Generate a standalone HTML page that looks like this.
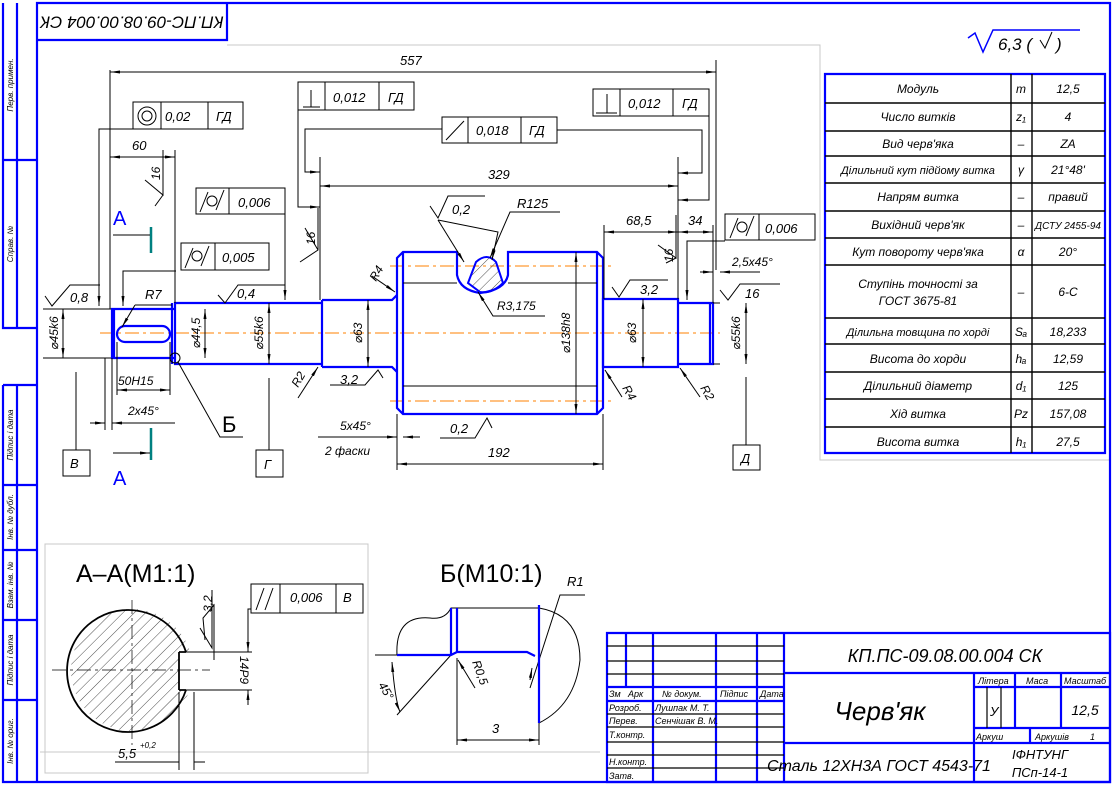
<!DOCTYPE html>
<html><head><meta charset="utf-8"><style>
html,body{margin:0;padding:0;background:#fff}
svg{display:block}
text{font-family:"Liberation Sans","DejaVu Sans",sans-serif;font-style:italic;fill:#000}
.b{stroke:#0000ff;stroke-width:2.2;fill:none}
.t{stroke:#000;stroke-width:1;fill:none}
.g{stroke:#c8c8c8;stroke-width:1;fill:none}
.o{stroke:#ff8000;stroke-width:1;stroke-dasharray:14 4 3 4;fill:none}
.c{stroke:#000;stroke-width:.7;stroke-dasharray:14 4 3 4;fill:none}
</style></head><body>
<svg width="1113" height="785" viewBox="0 0 1113 785" xmlns="http://www.w3.org/2000/svg">
<defs>
<marker id="a" viewBox="0 0 10 6" refX="10" refY="3" markerWidth="10" markerHeight="6" orient="auto-start-reverse" markerUnits="userSpaceOnUse"><path d="M0,1.5L10,3L0,4.5z" fill="#000"/></marker>
<pattern id="h" width="8" height="8" patternUnits="userSpaceOnUse" patternTransform="rotate(45)"><line x1="0" y1="0" x2="0" y2="8" stroke="#000" stroke-width=".7"/></pattern>
</defs>
<path class="g" d="M227,45H820V460H1110M45,544H368V773H45Z M40,752H600"/>
<path class="b" d="M37,3H1110V782H37Z M3,3V328H37 M17,3V328 M3,160H37 M3,385V782H37 M17,385V782 M3,385H37 M3,485H37 M3,550H37 M3,620H37 M3,700H37 M37,40H227V3"/>
<text transform="translate(13,85) rotate(-90)" font-size="8" text-anchor="middle">Перв. примен.</text>
<text transform="translate(13,244) rotate(-90)" font-size="8" text-anchor="middle">Справ. №</text>
<text transform="translate(13,435) rotate(-90)" font-size="8" text-anchor="middle">Підпис і дата</text>
<text transform="translate(13,517) rotate(-90)" font-size="8" text-anchor="middle">Інв. № дубл.</text>
<text transform="translate(13,585) rotate(-90)" font-size="8" text-anchor="middle">Взам. інв. №</text>
<text transform="translate(13,660) rotate(-90)" font-size="8" text-anchor="middle">Підпис і дата</text>
<text transform="translate(13,741) rotate(-90)" font-size="8" text-anchor="middle">Інв. № ориг.</text>
<text transform="translate(132,21) rotate(180)" font-size="17" text-anchor="middle" dominant-baseline="middle">КП.ПС-09.08.00.004 СК</text>
<path d="M968,38L975,33L983,52L993,30H1080" stroke="#0000ff" stroke-width="1.5" fill="none"/>
<text x="998" y="50" font-size="17">6,3 (</text>
<path d="M1040,40L1045,48L1052,32" stroke="#000" fill="none"/>
<text x="1056" y="50" font-size="17">)</text>
<path class="b" d="M825,74H1105V453H825Z"/>
<path d="M1011,74V453M1032,74V453M825,103H1105M825,131H1105M825,156H1105M825,183H1105M825,211H1105M825,238H1105M825,265H1105M825,318H1105M825,344H1105M825,372H1105M825,399H1105M825,427H1105" stroke="#000" stroke-width="1.4"/>
<g font-size="12" text-anchor="middle">
<text x="918" y="93">Модуль</text><text x="1021" y="93">m</text><text x="1068" y="93">12,5</text>
<text x="918" y="121">Число витків</text><text x="1021" y="121">z₁</text><text x="1068" y="121">4</text>
<text x="918" y="148">Вид черв'яка</text><text x="1021" y="148">–</text><text x="1068" y="148">ZA</text>
<text x="918" y="174" font-size="11">Ділильний кут підйому витка</text><text x="1021" y="174">γ</text><text x="1068" y="174">21°48'</text>
<text x="918" y="201">Напрям витка</text><text x="1021" y="201">–</text><text x="1068" y="201">правий</text>
<text x="918" y="229">Вихідний черв'як</text><text x="1021" y="229">–</text><text x="1068" y="229" font-size="10">ДСТУ 2455-94</text>
<text x="918" y="256">Кут повороту черв'яка</text><text x="1021" y="256">α</text><text x="1068" y="256">20°</text>
<text x="918" y="288">Ступінь точності за</text><text x="918" y="305">ГОСТ 3675-81</text><text x="1021" y="296">–</text><text x="1068" y="296">6-С</text>
<text x="918" y="336" font-size="11">Ділильна товщина по хорді</text><text x="1021" y="336">Sₐ</text><text x="1068" y="336">18,233</text>
<text x="918" y="363">Висота до хорди</text><text x="1021" y="363">hₐ</text><text x="1068" y="363">12,59</text>
<text x="918" y="390">Ділильний діаметр</text><text x="1021" y="390">d₁</text><text x="1068" y="390">125</text>
<text x="918" y="418">Хід витка</text><text x="1021" y="418">Pz</text><text x="1068" y="418">157,08</text>
<text x="918" y="446">Висота витка</text><text x="1021" y="446">h₁</text><text x="1068" y="446">27,5</text>
</g>
<path class="b" d="M607,633H1110V782H607Z M626,633V687 M653,633V782 M716,633V782 M757,633V782 M784,633V782 M607,687H784 M607,701H784 M784,673H1110 M784,743H1110 M974,673V782 M974,687H1110 M974,728H1110 M1015,673V728 M1061,673V728 M1030,728V743"/>
<path d="M607,646H784M607,661H784M607,674H784M607,714H784M607,727H784M607,742H784M607,755H784M607,768H784M987,687V728M1001,687V728" stroke="#000" stroke-width="1.2"/>
<g font-size="9">
<text x="609" y="697">Зм</text><text x="628" y="697">Арк</text><text x="662" y="697">№ докум.</text><text x="720" y="697">Підпис</text><text x="760" y="697">Дата</text>
<text x="609" y="711">Розроб.</text><text x="655" y="711">Лушпак М. Т.</text>
<text x="609" y="724">Перев.</text><text x="655" y="724">Сенчішак В. М.</text>
<text x="609" y="738">Т.контр.</text>
<text x="609" y="765">Н.контр.</text><text x="609" y="779">Затв.</text>
<text x="978" y="684">Літера</text><text x="1026" y="684">Маса</text><text x="1064" y="684">Масштаб</text>
<text x="976" y="740">Аркуш</text><text x="1035" y="740">Аркушів</text><text x="1090" y="740">1</text>
</g>
<text x="945" y="662" font-size="18" text-anchor="middle">КП.ПС-09.08.00.004  СК</text>
<text x="880" y="720" font-size="26" text-anchor="middle">Черв'як</text>
<text x="990" y="716" font-size="13">У</text>
<text x="1085" y="715" font-size="14" text-anchor="middle">12,5</text>
<text x="879" y="771" font-size="16" text-anchor="middle">Сталь 12ХН3А ГОСТ 4543-71</text>
<text x="1040" y="759" font-size="13" text-anchor="middle">ІФНТУНГ</text>
<text x="1040" y="777" font-size="13" text-anchor="middle">ПСп-14-1</text>

<path class="o" d="M100,333H720 M390,266H612 M390,401H612"/>
<path class="t" d="M43,309H112 M43,358H112"/>
<path class="b" d="M112,309H175V358H112Z M114,309V358 M175,303H322V364H175Z M172,303V364 M322,300H392L397,295 M322,367H392L397,372 M322,300V367"/>
<rect x="117" y="326" width="53" height="16" rx="8" class="b"/>
<path class="b" d="M397,258L403,252H457V275Q460,290 480,293Q505,290 508,275V252H597L603,258V408L597,414H403L397,408Z M403,252V414 M597,252V414"/>
<path d="M468,283L476,262Q487,252 496,262L503,283Q492,294 480,292Z" fill="url(#h)" stroke="#0000ff" stroke-width="2"/>
<path class="t" d="M403,283H457 M508,283H597 M403,386H597"/>
<path class="b" d="M603,299H678V367H603Z M678,303H713V364H678Z M710,303V364"/>
<path class="t" d="M713,303H720 M713,364H720"/>

<g class="t">
<path d="M110,72H716" marker-start="url(#a)" marker-end="url(#a)"/>
<path d="M110,70V309 M716,60V270"/>
<path d="M110,157H175" marker-start="url(#a)" marker-end="url(#a)"/>
<path d="M175,150V303"/>
<path d="M320,186H678" marker-start="url(#a)" marker-end="url(#a)"/>
<path d="M320,157V300 M678,157V299"/>
<path d="M604,232H678" marker-start="url(#a)" marker-end="url(#a)"/>
<path d="M604,225V299"/>
<path d="M678,232H713" marker-start="url(#a)" marker-end="url(#a)"/>
<path d="M713,225V303"/>
<path d="M397,464H603" marker-start="url(#a)" marker-end="url(#a)"/>
<path d="M397,414V470 M603,414V470"/>
<path d="M117,390H170" marker-start="url(#a)" marker-end="url(#a)"/>
<path d="M117,342V395 M170,342V395"/>
<path d="M90,423H105" marker-end="url(#a)"/><path d="M175,423H112" marker-end="url(#a)"/>
<path d="M105,430V358 M112,430V358"/>
<path d="M318,437H397" marker-end="url(#a)"/><path d="M420,437H403" marker-end="url(#a)"/>
<path d="M700,272H713" marker-end="url(#a)"/><path d="M760,272H720" marker-end="url(#a)"/>
<path d="M63,309V358" marker-start="url(#a)" marker-end="url(#a)"/>
<path d="M205,309V358" marker-start="url(#a)" marker-end="url(#a)"/>
<path d="M269,303V364" marker-start="url(#a)" marker-end="url(#a)"/>
<path d="M368,300V367" marker-start="url(#a)" marker-end="url(#a)"/>
<path d="M576,252V414" marker-start="url(#a)" marker-end="url(#a)"/>
<path d="M643,299V367" marker-start="url(#a)" marker-end="url(#a)"/>
<path d="M746,303V364" marker-start="url(#a)" marker-end="url(#a)"/>
<path d="M133,102H243V129H133Z M161,102V129 M208,102V129"/>
<circle cx="147" cy="116" r="9"/><circle cx="147" cy="116" r="5"/>
<path d="M133,129H99V306" marker-end="url(#a)"/>
<path d="M298,82H414V110H298Z M325,82V110 M379,82V110 M303,107H320 M311,90V107"/>
<path d="M298,110V207H320" marker-end="url(#a)"/>
<path d="M442,117H557V143H442Z M468,117V143 M521,117V143 M446,140L464,121"/>
<path d="M442,129H305V172H320" marker-end="url(#a)"/>
<path d="M557,130H702V173H678" marker-end="url(#a)"/>
<path d="M593,89H709V116H593Z M620,89V116 M673,89V116 M596,113H617 M607,94V113"/>
<path d="M709,116V200H678" marker-end="url(#a)"/>
<path d="M725,214H815V240H725Z M759,214V240"/>
<circle cx="742" cy="227" r="5"/><path d="M730,238L738,218 M746,236L754,216"/>
<path d="M725,241H687V300" marker-end="url(#a)"/>
<path d="M196,188H285V214H196Z M229,188V214"/>
<circle cx="212" cy="201" r="5"/><path d="M200,212L208,192 M216,210L224,190"/>
<path d="M285,214V300" marker-end="url(#a)"/>
<path d="M181,243H269V270H181Z M215,243V270"/>
<circle cx="197" cy="256" r="5"/><path d="M185,268L193,248 M201,266L209,246"/>
<path d="M176,271H123V306" marker-end="url(#a)"/>
<path d="M76,372V450 M63,450H90V476H63Z M269,378V450 M256,450H283V477H256Z M746,377V445 M733,445H760V470H733Z"/>
<path d="M45,296L52,306L70,285H100"/>
<path d="M218,295L225,303L238,285H285"/>
<path d="M612,287L619,297L630,280H668"/>
<path d="M720,290L728,300L740,284H780"/>
<path d="M145,180L163,195V150 M155,206L163,195"/>
<path d="M300,262L318,250V208 M305,228L318,250"/>
<path d="M658,245L676,258V215 M666,263L676,258"/>
<path d="M430,206L438,218L448,196H485"/>
<path d="M440,438H475L487,418L492,428"/>
<path d="M205,640L203,618L214,605V660"/>
<path d="M438,220L464,262" marker-end="url(#a)"/><path d="M438,220L498,232L492,260" marker-end="url(#a)"/>
<path d="M560,212H510L490,258" marker-end="url(#a)"/>
<path d="M545,316H493L478,292" marker-end="url(#a)"/>
<path d="M372,276L395,292" marker-end="url(#a)"/>
<path d="M622,397L605,370" marker-end="url(#a)"/>
<path d="M700,397L680,368" marker-end="url(#a)"/>
<path d="M298,398L318,367" marker-end="url(#a)"/>
<path d="M135,305L122,327" marker-end="url(#a)"/><path d="M135,305H172"/>
<circle cx="175" cy="358" r="5"/><path d="M178,362L220,437H243"/>
<path d="M330,385H365L378,370L383,378"/>
</g>
<g font-size="13">
<text x="400" y="65">557</text><text x="132" y="150">60</text>
<text x="488" y="179">329</text><text x="626" y="225">68,5</text><text x="688" y="225">34</text>
<text x="488" y="457">192</text>
<text x="165" y="121">0,02</text><text x="216" y="121">ГД</text>
<text x="333" y="102">0,012</text><text x="388" y="102">ГД</text>
<text x="476" y="135">0,018</text><text x="529" y="135">ГД</text>
<text x="628" y="108">0,012</text><text x="682" y="108">ГД</text>
<text x="765" y="233">0,006</text><text x="238" y="207">0,006</text><text x="222" y="262">0,005</text>
<text x="70" y="302">0,8</text><text x="237" y="298">0,4</text><text x="640" y="294">3,2</text><text x="745" y="298">16</text>
<text x="452" y="214">0,2</text><text x="517" y="208">R125</text><text x="497" y="310" font-size="12">R3,175</text>
<text x="145" y="299">R7</text><text x="118" y="385" font-size="12">50H15</text><text x="128" y="415" font-size="12">2x45°</text>
<text x="340" y="430" font-size="12">5x45°</text><text x="325" y="455" font-size="12">2 фаски</text>
<text x="732" y="266" font-size="12">2,5x45°</text>
<text x="340" y="384">3,2</text><text x="450" y="433">0,2</text>
<text x="70" y="468">В</text><text x="264" y="469">Г</text><text x="741" y="463">Д</text>
</g>
<text x="222" y="432" font-size="22" style="font-style:normal">Б</text>
<g font-size="12">
<text transform="translate(58,333) rotate(-90)" text-anchor="middle">⌀45k6</text>
<text transform="translate(200,333) rotate(-90)" text-anchor="middle">⌀44,5</text>
<text transform="translate(263,333) rotate(-90)" text-anchor="middle">⌀55k6</text>
<text transform="translate(362,333) rotate(-90)" text-anchor="middle">⌀63</text>
<text transform="translate(570,333) rotate(-90)" text-anchor="middle">⌀138h8</text>
<text transform="translate(636,333) rotate(-90)" text-anchor="middle">⌀63</text>
<text transform="translate(740,333) rotate(-90)" text-anchor="middle">⌀55k6</text>
<text transform="translate(160,180) rotate(-90)">16</text>
<text transform="translate(315,245) rotate(-90)">16</text>
<text transform="translate(673,262) rotate(-90)">16</text>
<text transform="translate(376,282) rotate(-60)">R4</text>
<text transform="translate(622,388) rotate(60)">R4</text>
<text transform="translate(700,388) rotate(60)">R2</text>
<text transform="translate(298,388) rotate(-60)">R2</text>
</g>
<path d="M151,227V253 M151,428V460" stroke="#008080" stroke-width="2.5"/>
<path class="t" d="M113,235H150 M113,453H150" marker-end="url(#a)"/>
<text x="113" y="225" font-size="20" style="fill:#0000ff;font-style:normal">A</text>
<text x="113" y="485" font-size="20" style="fill:#0000ff;font-style:normal">A</text>

<text x="76" y="582" font-size="25" style="font-style:normal">А–А(М1:1)</text>
<circle cx="132" cy="670" r="61" fill="url(#h)"/>
<rect x="179" y="652" width="20" height="38" fill="#fff"/>
<path d="M186,690A61,61 0 1,1 186,652 M179,652V690 M179,652H186 M179,690H186" stroke="#000" stroke-width="1.8" fill="none"/>
<path class="c" d="M52,670H210 M132,600V745"/>
<g class="t">
<path d="M251,584H363V613H251Z M280,584V613 M336,584V613 M256,610L264,588 M265,610L273,588"/>
<path d="M251,609H248V652" marker-end="url(#a)"/>
<path d="M186,652H252 M186,690H252 M248,690V705"/>
<path d="M248,700V690" marker-end="url(#a)"/>
<path d="M179,692V770 M194,692V770 M115,762H179 M194,762H205"/>
<path d="M200,628L212,648V590"/>
</g>
<text x="290" y="602" font-size="13">0,006</text><text x="343" y="602" font-size="13">В</text>
<text transform="translate(240,670) rotate(90)" font-size="12" text-anchor="middle">14P9</text>
<text transform="translate(212,612) rotate(-90)" font-size="12">3,2</text>
<text x="118" y="758" font-size="13">5,5</text><text x="140" y="748" font-size="8">+0,2</text>

<text x="440" y="582" font-size="25" style="font-style:normal">Б(М10:1)</text>
<text x="567" y="586" font-size="13">R1</text>
<g class="t">
<path d="M397,655Q395,615 430,618Q445,620 451,608H539Q580,615 580,660Q575,705 539,723"/>
<path d="M375,655H397"/>
<path d="M451,655L397,715"/>
<path d="M392,662Q395,700 400,712" marker-start="url(#a)" marker-end="url(#a)"/>
<path d="M457,740H539" marker-start="url(#a)" marker-end="url(#a)"/>
<path d="M457,658V745 M539,723V745"/>
<path d="M475,688L458,660" marker-end="url(#a)"/>
<path d="M585,595H560L530,688"/>
<path d="M530,680L532,668" marker-end="url(#a)"/>
</g>
<path class="b" d="M451,608V655 M457,608V652 M397,655H451L457,652H527L535,656 M539,605V723"/>
<text transform="translate(378,685) rotate(60)" font-size="12">45°</text>
<text transform="translate(472,662) rotate(70)" font-size="12">R0,5</text>
<text x="492" y="733" font-size="13">3</text>
</svg>
</body></html>
